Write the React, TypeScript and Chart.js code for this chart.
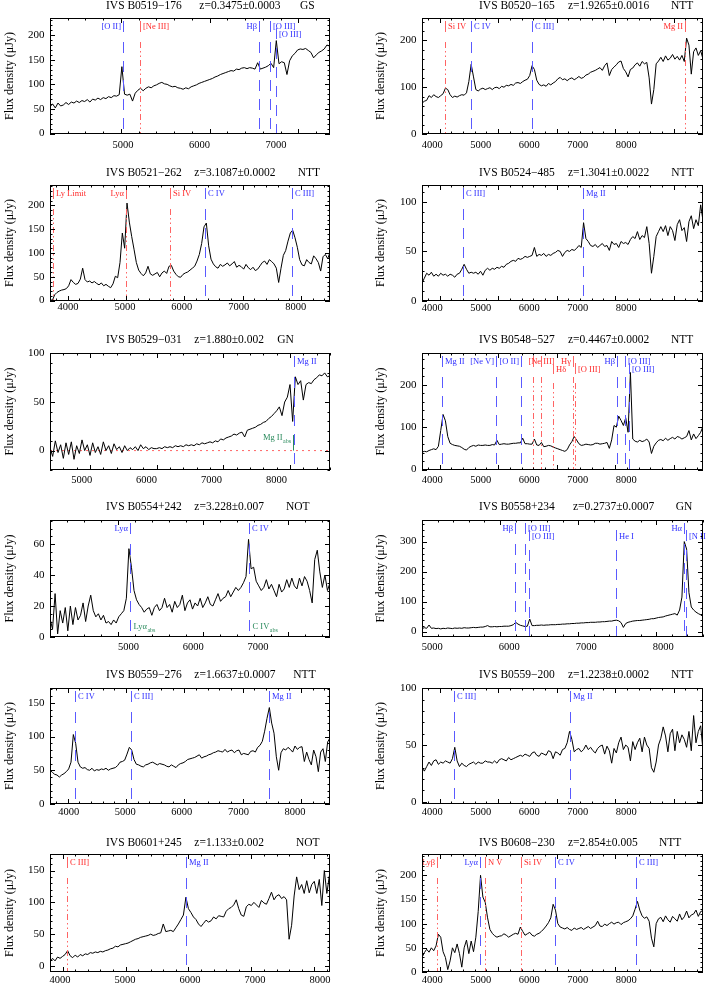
import React, { useEffect, useRef } from "react";
import { Chart, registerables } from "chart.js";

Chart.register(...registerables);

// ---------------- spectra: flux density (µJy) on a regular wavelength grid ----------------
const FLUX_0519 = [55,60,52,62,56,58,63,59,64,62, 66,63,67,65,69,64,70,68,72,69, 73,71,75,73,77,76,79,136,80,78, 80,66,82,88,92,87,92,95,93,97, 99,102,104,101,100,97,95,96,93,92, 90,93,91,95,97,99,102,104,106,108, 110,112,115,117,120,122,124,126,128,127, 131,130,133,134,132,134,133,131,144,131, 133,135,138,143,134,189,142,146,144,120, 148,158,163,170,172,171,173,169,165,154, 160,165,168,172,180,178];
const FLUX_0520 = [66,70,72,82,78,84,80,78,82,86, 98,95,84,78,81,79,82,84,83,88, 112,149,122,95,92,96,98,95,97,99, 95,99,100,97,102,100,104,103,106,104, 109,110,108,112,115,117,125,146,138,115, 106,103,105,102,108,105,109,112,118,121, 116,118,114,118,120,116,119,123,119,121, 126,128,132,134,136,139,142,136,146,152, 125,138,143,148,154,156,140,133,122,138, 141,148,152,145,155,150,153,120,64,95, 150,156,164,155,167,158,162,170,160,166, 158,168,155,205,190,128,176,184,168,178, 160];
const FLUX_0521 = [3,0,12,17,20,22,23,25,31,44, 38,34,36,45,68,44,39,41,37,40, 36,33,37,31,34,30,27,35,51,48, 80,142,110,205,165,135,108,80,64,57, 52,58,72,56,53,56,59,50,58,62, 57,72,74,62,55,50,49,55,58,60, 64,68,72,83,97,120,155,163,115,87, 77,71,68,76,72,75,79,73,77,82, 70,74,71,66,76,69,65,70,63,66, 73,80,83,76,86,82,77,68,38,68, 95,105,125,142,148,132,112,86,75,73, 86,80,77,94,88,80,62,92,97,88, 101];
const FLUX_0524 = [18,23,28,26,29,25,27,25,28,26, 27,25,27,26,24,27,28,32,37,32, 28,29,28,29,27,30,26,31,33,31, 33,32,34,33,35,34,37,38,40,41, 40,43,42,43,45,44,45,46,54,45, 47,46,48,45,47,46,48,49,51,50, 45,49,51,50,52,51,53,56,54,79, 63,60,56,55,57,54,56,58,55,56, 51,60,57,58,54,60,58,59,57,62, 65,63,70,62,66,64,75,58,28,45, 65,70,75,70,76,66,75,71,61,77, 82,71,74,60,80,86,73,82,76,97, 81];
const FLUX_0529 = [3,-6,10,-2,6,-8,8,-4,9,-9, 5,-3,11,0,6,-5,8,-2,4,-4, 9,0,5,-3,7,1,4,-2,5,0, 3,1,4,0,6,2,4,1,3,2, 2,3,2,4,3,4,3,5,4,5, 4,6,5,6,5,7,6,8,7,8, 9,8,10,9,12,11,13,14,15,17, 16,18,19,14,21,22,23,24,26,27, 29,30,33,35,38,41,45,36,50,55, 68,30,76,68,72,52,68,70,69,73, 75,78,77,80,76,77];
const FLUX_0548 = [41,43,42,45,47,49,47,55,92,130, 115,78,62,59,57,56,55,52,48,46, 52,55,57,55,58,57,57,58,57,57, 59,58,69,59,60,61,60,60,61,62, 62,63,63,74,61,61,60,60,72,58, 57,64,54,55,57,56,53,51,49,47, 45,43,47,58,66,78,70,61,57,58, 60,59,58,59,62,62,60,61,62,64, 50,70,104,100,126,116,104,122,88,229, 72,67,65,69,66,68,72,65,38,55, 63,69,71,68,74,69,73,76,72,78, 76,72,75,78,92,70,84,73,80,88, 102];
const FLUX_0554 = [12,5,28,2,17,9,19,4,20,8, 19,11,14,22,10,20,27,17,13,15, 11,14,9,10,8,11,9,13,15,17, 25,57,45,30,24,21,19,16,18,19, 14,19,21,17,19,25,19,21,16,23, 19,21,27,17,22,24,18,22,20,25, 19,22,26,21,20,24,28,23,25,26, 30,26,29,32,30,32,35,39,63,44, 45,36,33,30,32,37,31,34,30,26, 34,29,31,37,32,38,33,31,38,33, 39,36,30,22,50,56,42,32,40,30, 35];
const FLUX_0558 = [10,13,11,22,11,12,10,11,9,11, 10,12,11,10,12,11,12,11,13,12, 12,13,14,13,14,15,15,17,20,16, 16,17,16,17,17,18,18,18,20,23, 31,25,21,19,17,18,42,20,20,21, 21,22,21,22,22,23,23,23,24,24, 25,25,26,26,27,27,28,28,29,29, 30,30,31,31,31,32,32,33,33,34, 35,35,37,38,36,30,14,27,31,33, 35,36,37,37,38,39,40,41,43,43, 45,47,48,49,52,54,56,58,60,55, 72,115,300,275,130,82,72,65,60,56, 50];
const FLUX_0559A = [50,47,44,43,40,43,45,48,52,62, 103,90,62,55,53,54,51,50,53,49, 51,50,52,51,53,50,52,53,54,57, 62,63,65,74,84,80,66,59,58,56, 55,58,59,61,62,60,58,60,59,58, 56,55,58,56,54,58,60,61,63,66, 67,68,69,71,73,68,70,71,73,74, 76,77,79,78,77,81,77,79,80,76, 79,80,73,75,74,73,78,79,77,84, 87,93,108,127,143,120,105,70,50,76, 82,80,84,81,77,86,81,84,85,63, 77,66,58,80,70,48,77,82,63,92, 98];
const FLUX_0559B = [30,27,31,35,32,36,37,33,35,34, 36,35,34,38,48,36,31,34,32,31, 33,34,35,33,35,34,34,36,35,35, 34,36,34,37,38,37,36,39,37,38, 39,40,41,40,42,41,40,43,44,41, 40,43,42,41,45,44,38,44,43,41, 46,47,52,62,55,44,46,47,44,46, 50,46,48,45,43,47,49,50,42,49, 45,34,47,43,52,57,46,50,48,36, 53,46,52,56,44,57,50,47,30,26, 35,50,56,66,58,44,60,64,45,62, 52,59,55,48,62,45,76,52,62,67, 45];
const FLUX_0601 = [6,12,8,14,12,15,18,24,16,13, 17,14,18,16,19,18,21,20,22,21, 23,22,24,25,27,28,31,30,33,34, 35,36,38,40,42,43,45,46,47,48, 50,48,49,51,52,66,54,55,56,54, 60,66,73,80,108,90,84,77,73,66, 62,67,72,69,71,77,74,79,78,77, 86,90,92,96,104,90,80,78,93,97, 95,100,96,92,103,99,97,106,116,104, 110,112,106,109,104,42,64,110,140,120, 128,114,134,115,128,133,114,136,95,150, 114,142];
const FLUX_0608 = [30,40,47,41,50,44,54,78,72,42, 30,5,23,50,40,58,38,10,50,66, 38,64,42,72,125,200,155,144,112,88, 80,75,72,74,75,79,76,72,75,78, 80,78,93,84,76,79,82,76,74,78, 80,84,89,95,102,112,140,128,100,93, 91,89,92,88,86,91,88,90,92,88, 91,94,90,93,96,105,95,94,99,96, 100,103,99,102,103,98,102,104,106,110, 116,130,146,128,116,111,114,105,70,52, 100,110,113,104,116,108,103,115,110,105, 120,108,114,126,112,118,120,128,115,125, 127];

// ---------------- line identifications: [observed λ (Å), label, class b=blue r=red, side, row] ----------------
type LineDef = [number, string, "b" | "r", "l" | "r" | "c" | "n", number];
const LINES_0519: LineDef[] = [[5022, "[O II]", "b", "l", 0], [5213, "[Ne III]", "r", "r", 0], [6550, "Hβ", "b", "l", 0], [6682, "[O III]", "b", "r", 0], [6747, "[O III]", "b", "r", 1]];
const LINES_0520: LineDef[] = [[4097, "Si IV", "r", "r", 0], [4533, "C IV", "b", "r", 0], [5587, "C III]", "b", "r", 0], [8189, "Mg II", "r", "l", 0]];
const LINES_0521: LineDef[] = [[3747, "Ly Limit", "r", "r", 0], [4996, "Lyα", "r", "l", 0], [5752, "Si IV", "r", "r", 0], [6364, "C IV", "b", "r", 0], [7843, "C III]", "b", "r", 0]];
const LINES_0524: LineDef[] = [[4398, "C III]", "b", "r", 0], [6447, "Mg II", "b", "r", 0]];
const LINES_0529: LineDef[] = [[8058, "Mg II", "b", "r", 0]];
const LINES_0548: LineDef[] = [[4048, "Mg II", "b", "r", 0], [4956, "[Ne V]", "b", "l", 0], [5392, "[O II]", "b", "l", 0], [5597, "", "r", "n", 0], [5741, "[Ne III]", "r", "c", 0], [5934, "Hδ", "r", "r", 1], [6279, "Hγ", "r", "l", 0], [6312, "[O III]", "r", "r", 1], [7032, "Hβ", "b", "l", 0], [7174, "[O III]", "b", "r", 0], [7244, "[O III]", "b", "r", 1]];
const LINES_0554: LineDef[] = [[5141, "Lyα", "b", "l", 0], [6549, "C IV", "b", "r", 0]];
const LINES_0558: LineDef[] = [[6192, "Hβ", "b", "l", 0], [6316, "[O III]", "b", "r", 0], [6377, "[O III]", "b", "r", 1], [7484, "He I", "b", "r", 1], [8359, "Hα", "b", "l", 0], [8385, "[N II]", "b", "r", 1]];
const LINES_0559A: LineDef[] = [[4126, "C IV", "b", "r", 0], [5085, "C III]", "b", "r", 0], [7453, "Mg II", "b", "r", 0]];
const LINES_0559B: LineDef[] = [[4245, "C III]", "b", "r", 0], [6222, "Mg II", "b", "r", 0]];
const LINES_0601: LineDef[] = [[4072, "C III]", "r", "r", 0], [5968, "Mg II", "b", "r", 0]];
const LINES_0608: LineDef[] = [[3954, "Lyβ", "r", "l", 0], [4686, "Lyα", "b", "l", 0], [4779, "N V", "r", "r", 0], [5396, "Si IV", "r", "r", 0], [5970, "C IV", "b", "r", 0], [7357, "C III]", "b", "r", 0]];

// absorption identifications: [λ, label, subscript, flux level of label, side, marker top level or null]
type AbsDef = [number, string, string, number, "l" | "r", number | null];
const ABS_0529: AbsDef[] = [[8050, "Mg II", "abs", 13, "l", 16]];
const ABS_0554: AbsDef[] = [[5141, "Lyα", "abs", 6.5, "r", null], [6549, "C IV", "abs", 6.5, "r", null]];

const XT_4_8 = [4000, 5000, 6000, 7000, 8000];

interface Panel {
  title: [string, string, string];
  flux: number[]; w0: number; dw: number;
  xr: [number, number]; xl: [number, number]; xt: number[];
  yr: [number, number]; ystep: number; yminor: number;
  lines: LineDef[]; abs: AbsDef[]; zero?: boolean;
}

const PANELS: Panel[] = [
  { title: ["IVS B0519−176", "z=0.3475±0.0003", "GS"], flux: FLUX_0519, w0: 4200, dw: 30, xr: [4200, 7355], xl: [4047.8, 7704.3], xt: [5000, 6000, 7000], yr: [-1, 235], ystep: 50, yminor: 10, lines: LINES_0519, abs: [] },
  { title: ["IVS B0520−165", "z=1.9265±0.0016", "NTT"], flux: FLUX_0520, w0: 3700, dw: 40, xr: [3700, 8500], xl: [3786.6, 9583.5], xt: XT_4_8, yr: [0, 248], ystep: 100, yminor: 20, lines: LINES_0520, abs: [] },
  { title: ["IVS B0521−262", "z=3.1087±0.0002", "NTT"], flux: FLUX_0521, w0: 3700, dw: 40, xr: [3700, 8500], xl: [3684.2, 8602.3], xt: XT_4_8, yr: [-1, 243], ystep: 50, yminor: 10, lines: LINES_0521, abs: [] },
  { title: ["IVS B0524−485", "z=1.3041±0.0022", "NTT"], flux: FLUX_0524, w0: 3700, dw: 40, xr: [3700, 8500], xl: [3786.6, 9583.5], xt: XT_4_8, yr: [0, 117], ystep: 50, yminor: 10, lines: LINES_0524, abs: [] },
  { title: ["IVS B0529−031", "z=1.880±0.002", "GN"], flux: FLUX_0529, w0: 4400, dw: 40, xr: [4400, 8600], xl: [4512.8, 8825.6], xt: [5000, 6000, 7000, 8000], yr: [-20, 100.5], ystep: 50, yminor: 10, lines: LINES_0529, abs: ABS_0529, zero: true },
  { title: ["IVS B0548−527", "z=0.4467±0.0002", "NTT"], flux: FLUX_0548, w0: 3700, dw: 40, xr: [3700, 8500], xl: [3786.6, 9583.5], xt: XT_4_8, yr: [-1, 275], ystep: 100, yminor: 20, lines: LINES_0548, abs: [] },
  { title: ["IVS B0554+242", "z=3.228±0.007", "NOT"], flux: FLUX_0554, w0: 4200, dw: 30, xr: [4200, 7500], xl: [3786.6, 8110.5], xt: [5000, 6000, 7000], yr: [0, 75.5], ystep: 20, yminor: 5, lines: LINES_0554, abs: ABS_0554 },
  { title: ["IVS B0558+234", "z=0.2737±0.0007", "GN"], flux: FLUX_0558, w0: 5000, dw: 30, xr: [5000, 8600], xl: [4865.6, 8515.9], xt: [5000, 6000, 7000, 8000], yr: [-18, 372], ystep: 100, yminor: 20, lines: LINES_0558, abs: [] },
  { title: ["IVS B0559−276", "z=1.6637±0.0007", "NTT"], flux: FLUX_0559A, w0: 3700, dw: 40, xr: [3700, 8500], xl: [3670.6, 8617.6], xt: XT_4_8, yr: [0, 172], ystep: 50, yminor: 10, lines: LINES_0559A, abs: [] },
  { title: ["IVS B0559−200", "z=1.2238±0.0002", "NTT"], flux: FLUX_0559B, w0: 3700, dw: 40, xr: [3700, 8500], xl: [3786.6, 9583.5], xt: XT_4_8, yr: [-2, 100.3], ystep: 50, yminor: 10, lines: LINES_0559B, abs: [] },
  { title: ["IVS B0601+245", "z=1.133±0.002", "NOT"], flux: FLUX_0601, w0: 3800, dw: 40, xr: [3800, 8250], xl: [3846.4, 8153.6], xt: XT_4_8, yr: [-9.5, 176], ystep: 50, yminor: 10, lines: LINES_0601, abs: [] },
  { title: ["IVS B0608−230", "z=2.854±0.005", "NTT"], flux: FLUX_0608, w0: 3700, dw: 40, xr: [3700, 8500], xl: [3786.6, 9583.5], xt: XT_4_8, yr: [0, 244], ystep: 50, yminor: 10, lines: LINES_0608, abs: [] },
];

// ---------------- layout & style ----------------
const ROWS: [number, number][] = [[18, 134], [185, 301], [353, 470], [520, 637], [688, 804], [854, 972]];
const TITLE_Y = [5.3, 172.7, 340, 506.7, 674.3, 842.7];
const TITLE_X: [number, number, number][] = [
  [106, 199.3, 300], [479, 568, 671], [106, 194.3, 297.7], [479, 568, 671.3],
  [106, 194.3, 277.3], [479, 568, 671], [106, 194.3, 286], [479, 573, 675.7],
  [106, 194.3, 293.3], [479, 568, 671], [106, 194.3, 296], [479, 568, 659],
];
const XLAB_GAP = [11.7, 11.3, 6.5, 7.5, 10, 10, 10, 10, 8, 8, 8, 8.3];
const SERIF = '"Liberation Serif", "Times New Roman", serif';
const BLUE_LINE = "#5a5aff", BLUE_TEXT = "#2e2eff";
const RED_LINE = "#ff6464", RED_TEXT = "#ff2a2a";
const GREEN = "#2a8a5c";
const DASH_BLUE = [11, 8];
const DASH_RED = [6, 3, 1.5, 3, 1.5, 3];
const BAR: [number, number][] = [[3, 14], [10, 21]];
const LABEL_Y = [9, 17];
const DASH_START = [24, 30];
const TOP_PAD = 18, XAXIS_H = 26;

function marksPlugin(p: Panel) {
  return {
    id: "specMarks",
    afterDatasetsDraw(chart: any) {
      const ctx: CanvasRenderingContext2D = chart.ctx;
      const a = chart.chartArea;
      const xs = chart.scales.x, ys = chart.scales.y;
      const seg = (x1: number, y1: number, x2: number, y2: number) => {
        ctx.beginPath(); ctx.moveTo(x1, y1); ctx.lineTo(x2, y2); ctx.stroke();
      };
      ctx.save();
      ctx.lineWidth = 1;
      for (const [w, text, c, side, row] of p.lines) {
        const px = Math.round(xs.getPixelForValue(w)) + 0.5;
        ctx.strokeStyle = c === "b" ? BLUE_LINE : RED_LINE;
        ctx.setLineDash([]);
        seg(px, a.top + BAR[row][0], px, a.top + BAR[row][1]);
        ctx.setLineDash(c === "b" ? DASH_BLUE : DASH_RED);
        seg(px, a.top + DASH_START[row], px, a.bottom);
        if (text) {
          ctx.setLineDash([]);
          ctx.fillStyle = c === "b" ? BLUE_TEXT : RED_TEXT;
          ctx.font = `8.5px ${SERIF}`;
          ctx.textBaseline = "middle";
          ctx.textAlign = side === "l" ? "right" : side === "r" ? "left" : "center";
          const tx = side === "l" ? px - 2.5 : side === "r" ? px + 2.5 : px;
          ctx.fillText(text, tx, a.top + LABEL_Y[row]);
        }
      }
      ctx.setLineDash([]);
      for (const [w, text, sub, yv, side, segTop] of p.abs) {
        const px = Math.round(xs.getPixelForValue(w)) + 0.5;
        const py = ys.getPixelForValue(yv);
        ctx.fillStyle = GREEN; ctx.strokeStyle = GREEN;
        if (segTop !== null) seg(px, ys.getPixelForValue(segTop), px, ys.getPixelForValue(0));
        ctx.textBaseline = "middle"; ctx.textAlign = "left";
        ctx.font = `8.5px ${SERIF}`;
        const w1 = ctx.measureText(text).width;
        ctx.font = `6px ${SERIF}`;
        const w2 = ctx.measureText(sub).width;
        const x0 = side === "l" ? px - 3 - w1 - w2 : px + 3;
        ctx.font = `8.5px ${SERIF}`;
        ctx.fillText(text, x0, py);
        ctx.font = `6px ${SERIF}`;
        ctx.fillText(sub, x0 + w1 + 0.5, py + 3);
      }
      // frame and inward ticks
      ctx.strokeStyle = "#000";
      const k0 = Math.ceil(xs.min / 200), k1 = Math.floor(xs.max / 200);
      for (let k = k0; k <= k1; k++) {
        const px = Math.round(xs.getPixelForValue(k * 200)) + 0.5;
        const L = k % 5 === 0 ? 5 : 2.5;
        seg(px, a.bottom, px, a.bottom - L);
        seg(px, a.top, px, a.top + L);
      }
      const m = p.yminor;
      const j0 = Math.ceil(ys.min / m), j1 = Math.floor(ys.max / m);
      const per = Math.round(p.ystep / m);
      for (let j = j0; j <= j1; j++) {
        const py = Math.round(ys.getPixelForValue(j * m)) + 0.5;
        const L = j % per === 0 ? 5 : 2.5;
        seg(a.left, py, a.left + L, py);
        seg(a.right, py, a.right - L, py);
      }
      ctx.strokeRect(a.left + 0.5, a.top + 0.5, a.right - a.left - 1, a.bottom - a.top - 1);
      ctx.restore();
    },
  };
}

function SpectrumPanel({ p, idx }: { p: Panel; idx: number }) {
  const ref = useRef<HTMLCanvasElement>(null);
  const col = idx % 2, row = Math.floor(idx / 2);
  const [top, bottom] = ROWS[row];
  const height = bottom - top + TOP_PAD + XAXIS_H;
  useEffect(() => {
    const spectrum = p.flux.map((f, i) => ({ x: p.w0 + i * p.dw, y: f }));
    const datasets: any[] = [
      { data: spectrum, borderColor: "#000", borderWidth: 1, pointRadius: 0, tension: 0, fill: false },
    ];
    if (p.zero) {
      datasets.push({ data: [{ x: p.xr[0], y: 0 }, { x: p.xr[1], y: 0 }], borderColor: RED_LINE, borderWidth: 1, borderDash: [2, 4], pointRadius: 0, fill: false });
    }
    const yTicks: number[] = [];
    for (let k = Math.ceil(p.yr[0] / p.ystep); k * p.ystep <= p.yr[1]; k++) yTicks.push(k * p.ystep);
    const yW = col === 0 ? 50 : 69;
    const padRight = col === 0 ? 23 : 3;
    const titlePad = col === 0 ? 2.5 : 20.8;
    const xPad = Math.max(0, XLAB_GAP[idx] - 5.25);
    const chart = new Chart(ref.current as HTMLCanvasElement, {
      type: "line",
      data: { datasets },
      options: {
        responsive: false,
        animation: false,
        events: [],
        layout: { padding: { left: 0, right: padRight, top: TOP_PAD, bottom: 0 } },
        plugins: { legend: { display: false }, tooltip: { enabled: false }, title: { display: false } },
        scales: {
          x: { type: "linear", min: p.xr[0], max: p.xr[1], display: false },
          xl: {
            type: "linear", position: "bottom", min: p.xl[0], max: p.xl[1],
            grid: { display: false, drawTicks: false }, border: { display: false },
            afterBuildTicks: (s: any) => { s.ticks = p.xt.map((v) => ({ value: v })); },
            ticks: {
              autoSkip: false, maxRotation: 0, minRotation: 0,
              padding: xPad, color: "#000", font: { family: SERIF, size: 10.5, lineHeight: 1 },
              callback: (v: any) => String(Math.round(v)),
            },
            afterFit: (s: any) => { s.height = XAXIS_H; },
          },
          y: {
            type: "linear", position: "left", min: p.yr[0], max: p.yr[1],
            grid: { display: false, drawTicks: false }, border: { display: false },
            afterBuildTicks: (s: any) => { s.ticks = yTicks.map((v) => ({ value: v })); },
            ticks: { autoSkip: false, padding: 5.5, color: "#000", font: { family: SERIF, size: 11 }, callback: (v: any) => String(Math.round(v)) },
            title: { display: true, text: "Flux density (μJy)", color: "#000", font: { family: SERIF, size: 12 }, padding: { top: titlePad, bottom: 0 } },
            afterFit: (s: any) => { s.width = yW; },
          },
        } as any,
      },
      plugins: [marksPlugin(p)],
    } as any);
    return () => chart.destroy();
  }, []);
  return (
    <canvas
      ref={ref}
      width={353}
      height={height}
      style={{ position: "absolute", left: col * 353, top: top - TOP_PAD, width: 353, height }}
    />
  );
}

export default function App() {
  return (
    <div style={{ position: "absolute", left: 0, top: 0, width: 706, height: 985, background: "#fff", overflow: "hidden" }}>
      {PANELS.map((p, i) => (
        <SpectrumPanel key={i} p={p} idx={i} />
      ))}
      {PANELS.map((p, i) =>
        p.title.map((t, k) => (
          <span
            key={`t${i}-${k}`}
            style={{
              position: "absolute",
              left: TITLE_X[i][k],
              top: TITLE_Y[Math.floor(i / 2)] - 5.8,
              fontFamily: SERIF,
              fontSize: 11.5,
              lineHeight: "11.5px",
              whiteSpace: "pre",
              color: "#000",
            }}
          >
            {t}
          </span>
        ))
      )}
    </div>
  );
}
